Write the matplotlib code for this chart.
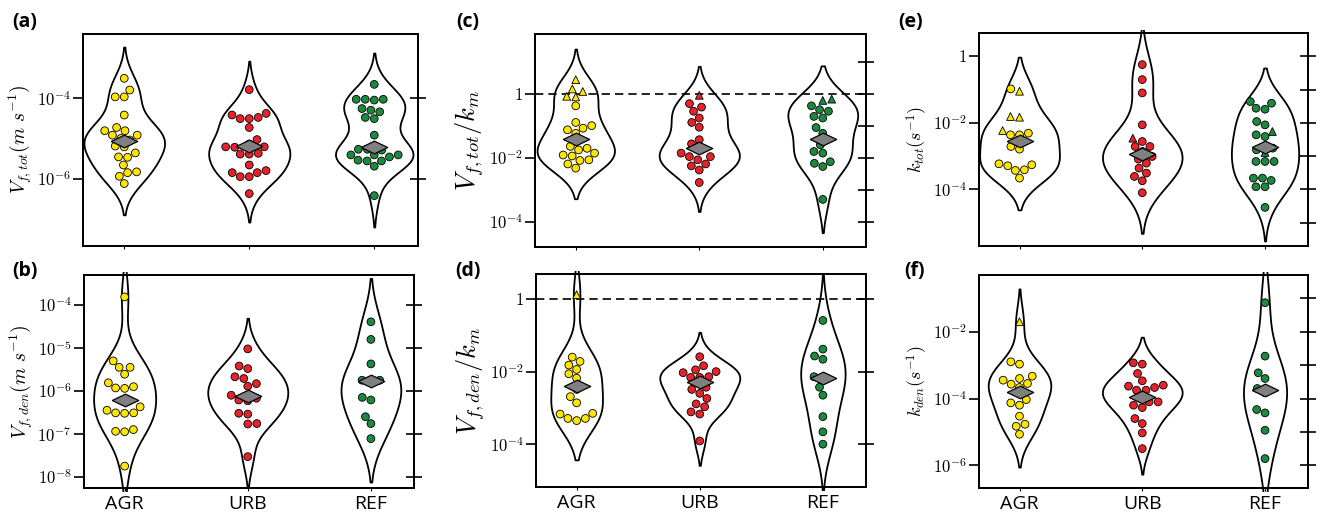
import matplotlib
matplotlib.use("Agg")
import matplotlib.pyplot as plt
import numpy as np
import pandas as pd
import seaborn as sns
from matplotlib.markers import MarkerStyle
from matplotlib.ticker import NullLocator
from matplotlib.transforms import Bbox, TransformedBbox

plt.rcParams['mathtext.fontset'] = 'cm'
plt.rcParams['font.family'] = ['Open Sans', 'DejaVu Sans']

sites = ["AGR", "URB", "REF"]
site_colors = ["#FFE600", "#E8222A", "#1B8A3E"]

# values are log10 exponents
# (a) V_f,tot
a_agr = [-3.50, -3.79, -3.96, -3.96, -4.41, -4.72, -4.80, -4.80, -4.91, -4.91, -4.99,
         -5.03, -5.18, -5.20, -5.35, -5.45, -5.46, -5.65, -5.82, -5.84, -5.93, -6.11]
a_urb = [-3.78, -4.37, -4.41, -4.47, -4.50, -4.50, -4.72, -5.02, -5.13, -5.20, -5.20,
         -5.21, -5.36, -5.38, -5.38, -5.65, -5.79, -5.84, -5.84, -5.94, -5.94, -6.36]
a_ref = [-3.65, -4.02, -4.02, -4.02, -4.04, -4.25, -4.29, -4.33, -4.47, -4.50, -4.91, -5.26,
         -5.26, -5.28, -5.40, -5.40, -5.40, -5.45, -5.53, -5.55, -5.55, -5.68, -6.41]
a_mid = [-5.06, -5.18, -5.20]

# (b) V_f,den
b_agr = [-3.81, -5.30, -5.45, -5.45, -5.61, -5.81, -5.90, -5.93, -5.94, -6.37, -6.45,
         -6.51, -6.51, -6.52, -6.90, -6.94, -6.95, -7.75]
b_urb = [-5.02, -5.42, -5.48, -5.67, -5.71, -5.83, -5.89, -6.10, -6.17, -6.21, -6.23,
         -6.52, -6.54, -6.76, -6.77, -7.53]
b_ref = [-4.39, -4.80, -5.37, -5.75, -5.75, -5.79, -6.15, -6.21, -6.60, -6.76, -7.11]
b_mid = [-6.20, -6.11, -5.77]

# (c) V_f,tot / k_m  (triangles listed separately)
c_agr = [-0.37, -0.89, -0.99, -1.07, -1.12, -1.23, -1.64, -1.70, -1.75, -1.85, -1.91,
         -1.94, -2.06, -2.08, -2.19, -2.32]
c_agr_tri = [0.45, 0.16, 0.08, -0.07, -0.09]
c_urb = [-0.30, -0.41, -0.54, -0.75, -0.89, -1.04, -1.43, -1.56, -1.70, -1.85, -1.96,
         -1.96, -2.06, -2.19, -2.25, -2.38, -2.77]
c_urb_tri = [-0.04]
c_ref = [-0.37, -0.49, -0.54, -0.70, -0.75, -1.05, -1.23, -1.59, -1.80, -1.85, -2.12,
         -2.17, -2.27, -3.30]
c_ref_tri = [-0.16, -0.20]
c_mid = [-1.40, -1.68, -1.41]

# (d) V_f,den / k_m
d_agr = [-1.60, -1.72, -1.82, -1.94, -2.06, -2.18, -2.49, -2.69, -2.86, -3.15, -3.17,
         -3.29, -3.29, -3.35]
d_agr_tri = [0.12]
d_urb = [-1.59, -1.84, -1.95, -2.00, -2.03, -2.14, -2.16, -2.16, -2.43, -2.49, -2.60,
         -2.74, -2.89, -2.97, -3.11, -3.17, -3.91]
d_ref = [-0.59, -1.38, -1.57, -1.66, -2.14, -2.18, -2.43, -2.65, -3.24, -3.66, -4.00]
d_mid = [-2.39, -2.30, -2.17]

# (e) k_tot
e_agr = [-0.98, -2.31, -2.36, -2.36, -2.71, -2.79, -3.23, -3.26, -3.29, -3.41, -3.43, -3.66]
e_agr_tri = [-1.05, -1.81, -1.83, -2.23]
e_urb = [-0.25, -0.70, -1.10, -2.06, -2.56, -2.71, -2.71, -2.86, -3.01, -3.09, -3.21,
         -3.36, -3.51, -3.61, -3.74, -4.10]
e_urb_tri = [-2.46]
e_ref = [-1.36, -1.41, -1.56, -1.59, -1.96, -2.06, -2.36, -2.41, -2.76, -2.81, -3.16,
         -3.16, -3.16, -3.66, -3.66, -3.73, -3.92, -3.92, -4.54]
e_ref_tri = [-2.26, -2.89]
e_mid = [-2.54, -2.93, -2.74]

# (f) k_den
f_agr = [-2.90, -2.97, -3.33, -3.40, -3.45, -3.55, -3.57, -3.67, -4.03, -4.13, -4.20,
         -4.53, -4.77, -4.83, -5.07]
f_agr_tri = [-1.70]
f_urb = [-2.93, -2.97, -3.25, -3.47, -3.60, -3.63, -3.67, -3.75, -3.75, -3.97, -4.10,
         -4.10, -4.20, -4.27, -4.60, -4.75, -5.03, -5.50]
f_ref = [-1.13, -2.73, -3.23, -3.40, -3.70, -3.83, -4.33, -4.43, -4.95, -5.80]
f_mid = [-3.80, -3.95, -3.73]

panels = [
    # letter, circles, triangles, centres, ylabel, ylim, left ticks, left labels, right ticks, dashed
    ("(a)", [a_agr, a_urb, a_ref], [[], [], []], a_mid, r"$V_{f,tot}(m\ s^{-1})$",
     (-7.66, -2.40), [-4, -6], [r"$10^{-4}$", r"$10^{-6}$"], [-4, -6], False),
    ("(b)", [b_agr, b_urb, b_ref], [[], [], []], b_mid, r"$V_{f,den}(m\ s^{-1})$",
     (-8.26, -3.30), [-4, -5, -6, -7, -8],
     [r"$10^{-4}$", r"$10^{-5}$", r"$10^{-6}$", r"$10^{-7}$", r"$10^{-8}$"], [-4, -5, -6, -7, -8], False),
    ("(c)", [c_agr, c_urb, c_ref], [c_agr_tri, c_urb_tri, c_ref_tri], c_mid, r"$V_{f,tot}/k_m$",
     (-4.79, 1.88), [0, -2, -4], [r"$1$", r"$10^{-2}$", r"$10^{-4}$"], [1, 0, -1, -2, -3, -4], True),
    ("(d)", [d_agr, d_urb, d_ref], [d_agr_tri, [], []], d_mid, r"$V_{f,den}/k_m$",
     (-5.18, 0.69), [0, -2, -4], [r"$1$", r"$10^{-2}$", r"$10^{-4}$"], [0, -2, -4], True),
    ("(e)", [e_agr, e_urb, e_ref], [e_agr_tri, e_urb_tri, e_ref_tri], e_mid, r"$k_{tot}(s^{-1})$",
     (-5.70, 0.70), [0, -2, -4], [r"$1$", r"$10^{-2}$", r"$10^{-4}$"], [0, -1, -2, -3, -4, -5], False),
    ("(f)", [f_agr, f_urb, f_ref], [f_agr_tri, [], []], f_mid, r"$k_{den}(s^{-1})$",
     (-6.68, -0.30), [-2, -4, -6], [r"$10^{-2}$", r"$10^{-4}$", r"$10^{-6}$"], [-1, -2, -3, -4, -5, -6], False),
]

# axes boxes in pixels: left, top, right, bottom
boxes = [(83, 34, 418, 246), (84, 275, 414, 488),
         (535, 34, 866, 247), (536, 274, 866, 487),
         (979, 33, 1308, 246), (979, 275, 1308, 488)]
letter_pos = [(12, 22), (12, 271), (456, 22), (455, 271), (898, 22), (904, 271)]
ylab_size = [14, 14, 19, 19, 13, 13]

W, H = 1325, 515
fig = plt.figure(figsize=(W / 100, H / 100), dpi=100)

ms = MarkerStyle("o")
circ_path = ms.get_path().transformed(ms.get_transform())
mt = MarkerStyle("^")
tri_path = mt.get_path().transformed(mt.get_transform())
diamond = [(-1, 0), (0, 0.48), (1, 0), (0, -0.48), (-1, 0)]

for k, p in enumerate(panels):
    letter, circ, tri, mid, ylab, ylim, lt, ll, rt, dashed = p
    l, t, r, b = boxes[k]
    ax = fig.add_axes([l / W, 1 - b / H, (r - l) / W, (b - t) / H])

    rows = []
    for i, s in enumerate(sites):
        for v in tri[i]:
            rows.append((s, 10.0 ** v, True))
        for v in circ[i]:
            rows.append((s, 10.0 ** v, False))
    df = pd.DataFrame(rows, columns=["site", "val", "tri"])

    sns.violinplot(data=df, x="site", y="val", order=sites, log_scale=True, inner=None,
                   color="white", linecolor="black", linewidth=1.3, width=0.65,
                   density_norm="area", cut=2, saturation=1, ax=ax)
    # violins may poke a few pixels past the frame, as in the original
    clip = TransformedBbox(Bbox([[-0.01, -0.016], [1.01, 1.016]]), ax.transAxes)
    for c in ax.collections:
        c.set_clip_box(clip)
        c.set_facecolor("white")

    if dashed:
        ax.axhline(1, color="black", lw=1.2, ls=(0, (5, 3)), zorder=1.5)

    n0 = len(ax.collections)
    sns.swarmplot(data=df, x="site", y="val", order=sites, hue="site", hue_order=sites,
                  palette=site_colors, size=5.6, edgecolor="black", linewidth=0.6,
                  log_scale=True, legend=False, ax=ax, zorder=3)
    for coll in ax.collections[n0:]:
        offs = coll.get_offsets()
        if len(offs) == 0:
            continue
        idx = int(round(np.mean(offs[:, 0])))
        flags = df[df.site == sites[idx]]["tri"].tolist()
        coll.set_paths([tri_path if f else circ_path for f in flags])

    ax.plot(range(3), 10.0 ** np.array(mid), ls="none", marker=diamond, ms=19,
            mfc="#808080", mec="black", mew=0.9, zorder=6)

    ax.set_xlim(-0.33, 2.35)
    ax.set_ylim(10.0 ** ylim[0], 10.0 ** ylim[1])
    ax.set_yticks([10.0 ** v for v in lt])
    ax.set_yticklabels(ll)
    ax.yaxis.set_minor_locator(NullLocator())
    ax.tick_params(axis="y", direction="out", length=7, width=1.2, labelsize=12, pad=2)
    ax.tick_params(axis="x", length=2, width=0.8, labelsize=14, pad=3)
    ax.set_xlabel("")
    ax.set_ylabel(ylab, fontsize=ylab_size[k], labelpad=2)
    if k % 2 == 0:
        ax.set_xticklabels([])
    for sp in ax.spines.values():
        sp.set_linewidth(1.3)

    tw = ax.twinx()
    tw.set_yscale("log")
    tw.set_ylim(ax.get_ylim())
    tw.set_yticks([10.0 ** v for v in rt])
    tw.set_yticklabels([])
    tw.yaxis.set_minor_locator(NullLocator())
    tw.tick_params(axis="y", direction="inout", length=11, width=1.2)
    for sp in tw.spines.values():
        sp.set_linewidth(1.3)

    fig.text(letter_pos[k][0] / W, 1 - letter_pos[k][1] / H, letter, fontsize=14,
             fontweight="bold", ha="left", va="center")

fig.savefig("out.png", dpi=100)
